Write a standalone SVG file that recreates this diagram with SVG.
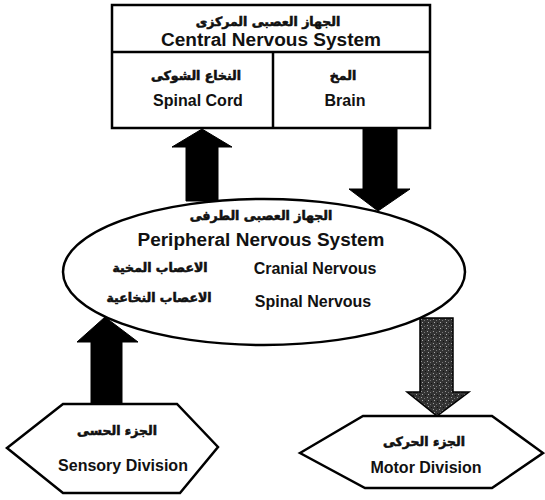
<svg xmlns="http://www.w3.org/2000/svg" width="545" height="500" viewBox="0 0 545 500">
<defs>
<pattern id="speck" width="6" height="6" patternUnits="userSpaceOnUse">
<rect width="6" height="6" fill="#333"/>
<rect x="1" y="1" width="1" height="1" fill="#999"/>
<rect x="4" y="2" width="1" height="1" fill="#777"/>
<rect x="2" y="4" width="1" height="1" fill="#aaa"/>
<rect x="5" y="5" width="1" height="1" fill="#111"/>
</pattern>
</defs>
<style>
.shape{fill:#fff;stroke:#000;stroke-width:2.5}
.en{font-family:"Liberation Sans",Arial,sans-serif;font-weight:bold;fill:#111;text-anchor:middle}
.ar{font-family:"DejaVu Sans","Noto Sans",sans-serif;font-weight:bold;fill:#111;stroke:#111;stroke-width:0.6;text-anchor:middle;font-size:12.5px}
.arrow{fill:#000;stroke:#000;stroke-width:1}
.grey{fill:url(#speck);stroke:#000;stroke-width:1.5}
</style>
<rect width="545" height="500" fill="#fff"/>

<g id="cns">
<rect class="shape" x="112" y="5" width="318" height="123"/>
<line x1="112" y1="52" x2="430" y2="52" stroke="#000" stroke-width="2.5"/>
<line x1="273" y1="52" x2="273" y2="128" stroke="#000" stroke-width="2.5"/>
<text class="ar" x="268" y="26" direction="rtl">الجهاز العصبى المركزى</text>
<text class="en" x="271" y="46" font-size="18" textLength="220" lengthAdjust="spacingAndGlyphs">Central Nervous System</text>
</g>
<g id="spinal-cord">
<text class="ar" x="196" y="80" direction="rtl">النخاع الشوكى</text>
<text class="en" x="198" y="106" font-size="16">Spinal Cord</text>
</g>
<g id="brain">
<text class="ar" x="343" y="80" direction="rtl">المخ</text>
<text class="en" x="345" y="106" font-size="16">Brain</text>
</g>

<g id="pns">
<ellipse class="shape" cx="264" cy="272" rx="201" ry="73"/>
<text class="ar" x="261" y="220" direction="rtl">الجهاز العصبى الطرفى</text>
<text class="en" x="261" y="246" font-size="18" textLength="247" lengthAdjust="spacingAndGlyphs">Peripheral Nervous System</text>
<text class="en" x="315" y="274" font-size="16">Cranial Nervous</text>
<text class="en" x="313" y="307" font-size="16">Spinal Nervous</text>
<text class="ar" x="160" y="272" direction="rtl">الاعصاب المخية</text>
<text class="ar" x="159" y="302" direction="rtl">الاعصاب النخاعية</text>
</g>

<g id="sensory">
<polygon class="shape" points="7,448 63,404 177,404 218,447 180,493 63,493"/>
<text class="ar" x="117" y="435" direction="rtl">الجزء الحسى</text>
<text class="en" x="123" y="471" font-size="16">Sensory Division</text>
</g>

<g id="motor">
<polygon class="shape" points="300,453 363,416 492,416 543,453 492,488 365,488"/>
<text class="ar" x="424" y="446" direction="rtl">الجزء الحركى</text>
<text class="en" x="426" y="473" font-size="16">Motor Division</text>
</g>

<g id="connectors">
<polygon class="arrow" points="202,129 232,147 218,147 218,201 186,201 186,147 172,147"/>
<polygon class="arrow" points="363,128 397,128 397,189 410,189 378,211 349,189 363,189"/>
<polygon class="arrow" points="105,317 138,342 122,342 122,404 91,404 91,342 77,342"/>
<polygon class="grey" points="420,318 453,318 453,392 469,392 437,416 407,392 420,392"/>
</g>
</svg>
